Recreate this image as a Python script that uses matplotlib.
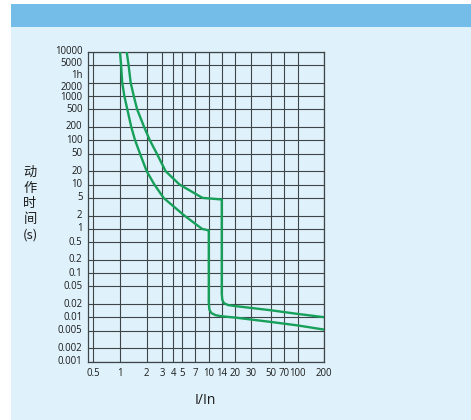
import numpy as np
import matplotlib
matplotlib.use("Agg")
import matplotlib.pyplot as plt
from matplotlib.patches import Rectangle
from matplotlib.transforms import ScaledTranslation, blended_transform_factory

# ---------------- data ----------------
x_ticks = [0.5, 1, 2, 3, 4, 5, 7, 10, 14, 20, 30, 50, 70, 100, 200]
x_labels = ["0.5", "1", "2", "3", "4", "5", "7", "10", "14", "20", "30", "50", "70", "100", "200"]

y_ticks = [10000, 5000, 2000, 1000, 500, 200, 100, 50, 20, 10, 5, 2, 1,
           0.5, 0.2, 0.1, 0.05, 0.02, 0.01, 0.005, 0.002, 0.001]
y_labels = ["10000", "5000", "2000", "1000", "500", "200", "100", "50", "20", "10", "5", "2", "1",
            "0.5", "0.2", "0.1", "0.05", "0.02", "0.01", "0.005", "0.002", "0.001"]
hour_tick = 3600
hour_label = "1h"

# lower (fast) tripping curve
lower_x = [1.0, 1.03, 1.06, 1.12, 1.21, 1.34, 1.48, 1.68, 2.0, 2.44, 3.1, 5.3, 8.4, 10.0,
           10.0, 10.15, 10.7, 12.0, 14.0, 20.0, 50.0, 100.0, 200.0]
lower_y = [10000, 5000, 2000, 1000, 500, 200, 100, 50, 20, 10, 5, 2, 1, 0.92,
           0.022, 0.015, 0.0125, 0.0112, 0.0106, 0.0099, 0.0079, 0.0066, 0.0053]

# upper (slow) tripping curve
upper_x = [1.19, 1.25, 1.32, 1.43, 1.56, 1.87, 2.17, 2.6, 3.27, 4.69, 8.5, 14.0,
           14.0, 14.2, 14.8, 16.5, 20.0, 50.0, 100.0, 200.0]
upper_y = [10000, 5000, 2000, 1000, 500, 200, 100, 50, 20, 10, 5, 4.6,
           0.034, 0.025, 0.021, 0.019, 0.018, 0.0145, 0.012, 0.0101]

ylabel_chars = ["动", "作", "时", "间", "(s)"]
xlabel_text = "I/In"

# ---------------- figure ----------------
W, H = 471, 420
fig = plt.figure(figsize=(W / 100, H / 100), dpi=100, facecolor="white")

panel_color = "#DFF1FA"
header_color = "#74BDE8"
fig.patches.append(Rectangle((11 / W, 0), 1 - 11 / W, (H - 4) / H,
                             transform=fig.transFigure, facecolor=panel_color,
                             edgecolor="none", zorder=-10))
fig.patches.append(Rectangle((11 / W, (H - 26.7) / H), 1 - 11 / W, 22.7 / H,
                             transform=fig.transFigure, facecolor=header_color,
                             edgecolor="none", zorder=-9))

left, right, top, bottom = 88.3, 324.3, 51.7, 361.7
ax = fig.add_axes([left / W, 1 - bottom / H, (right - left) / W, (bottom - top) / H])
ax.set_facecolor("none")
ax.set_zorder(1)

grid_color = "#3d4549"
green = "#17A05A"
text_color = "#1c1c1c"

ax.set_xscale("log")
ax.set_yscale("log")
ax.set_xlim(0.44, 200)
ax.set_ylim(0.001, 10000)

ax.plot(lower_x, lower_y, color=green, lw=1.7, solid_joinstyle="round",
        solid_capstyle="round", zorder=3)
ax.plot(upper_x, upper_y, color=green, lw=1.7, solid_joinstyle="round",
        solid_capstyle="round", zorder=3)

# grid lines
ax.set_xticks(x_ticks)
ax.set_xticks([], minor=True)
ax.set_yticks(y_ticks)
ax.set_yticks([], minor=True)
ax.set_yticklabels([])
ax.set_xticklabels(x_labels, fontsize=6.9, family=["Open Sans", "DejaVu Sans"], color=text_color)
ax.tick_params(axis="both", which="both", length=0)
ax.tick_params(axis="x", pad=4.5)
ax.grid(True, which="major", color=grid_color, lw=0.8, zorder=1)
for sp in ax.spines.values():
    sp.set_color(grid_color)
    sp.set_linewidth(0.9)

# y tick labels (drawn as text so crowded ones can be nudged)
ytrans = blended_transform_factory(ax.transAxes, ax.transData)
nudge = {"5000": 1.2, "2000": -3.2, "1000": -1.0}
for v, lab in zip(y_ticks, y_labels):
    dy = nudge.get(lab, 0) / 72
    ax.text(0, v, lab, transform=ytrans + ScaledTranslation(-4.2 / 72, dy, fig.dpi_scale_trans),
            ha="right", va="center", fontsize=6.9, family=["Open Sans", "DejaVu Sans"],
            color=text_color)
ax.text(0, hour_tick, hour_label,
        transform=ytrans + ScaledTranslation(-4.2 / 72, -3.3 / 72, fig.dpi_scale_trans),
        ha="right", va="center", fontsize=6.9, family=["Open Sans", "DejaVu Sans"],
        color=text_color)

# axis titles
for i, ch in enumerate(ylabel_chars):
    fig.text(30 / W, 1 - (172.7 + 15.6 * i) / H, ch, ha="center", va="center",
             fontsize=9.5, family=["Noto Sans CJK SC", "DejaVu Sans"], color=text_color)
fig.text(205 / W, 1 - 400 / H, xlabel_text, ha="center", va="center",
         fontsize=10, family=["Open Sans", "DejaVu Sans"], color=text_color)

fig.savefig("out.png", dpi=100, facecolor="white")
